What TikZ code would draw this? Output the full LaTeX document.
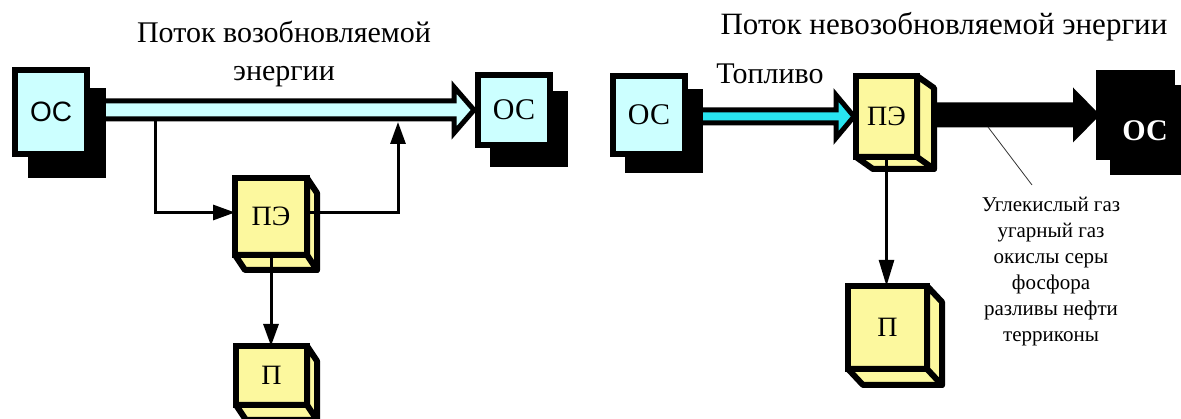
\documentclass[tikz,border=0pt]{standalone}
\usepackage{fontspec}
\setmainfont{Liberation Serif}
\newfontfamily\tnr{Liberation Serif}
\newfontfamily\arialfont{Liberation Sans}
\usetikzlibrary{arrows.meta,calc,backgrounds}
\definecolor{lcyan}{RGB}{204,255,255}
\definecolor{bcyan}{RGB}{40,228,240}
\definecolor{yel}{RGB}{252,248,158}
\tikzset{
  box/.style={draw=black, line width=6pt, line join=miter, inner sep=0pt, outer sep=0pt, font=\tnr\fontsize{30}{30}\selectfont},
  osbox/.style={box, fill=lcyan},
  cube/.style={box, fill=yel, font=\tnr\fontsize{28}{28}\selectfont},
  conn/.style={line width=3pt, -{Triangle[length=22pt,width=15pt]}},
  thinconn/.style={line width=2.5pt, -{Triangle[length=26pt,width=15pt]}},
  pointer/.style={line width=0.8pt, draw=black!80},
  title/.style={font=\tnr\fontsize{30}{38}\selectfont, align=center, inner sep=0pt},
  note/.style={font=\tnr\fontsize{21}{26}\selectfont, align=center, inner sep=0pt},
}
\newcommand\cubedepth[3]{%
  \filldraw[line width=6pt, line join=round, fill=yel, draw=black]
    (#1.north east) -- ++(#2,#3) -- ($(#1.south east)+(#2,#3)$) -- ($(#1.south west)+(#2,#3)$)
    -- (#1.south west) -- (#1.south east) -- cycle;
  \draw[line width=6pt, line cap=round] (#1.south east) -- ++(#2,#3);}
\newcommand\shadowof[3]{%
  \filldraw[black, line width=6pt] ($(#1.south west)+(#2,#3)$) rectangle ($(#1.north east)+(#2,#3)$);}
% style, from, to, half band, half head, head length
\newcommand\blockarrow[6]{%
  \path[#1] let \p1=(#2), \p2=(#3) in
    (\x1,\y2+#4) -- (\x2-#6,\y2+#4) -- (\x2-#6,\y2+#5) -- (\x2,\y2)
    -- (\x2-#6,\y2-#5) -- (\x2-#6,\y2-#4) -- (\x1,\y2-#4) -- cycle;}
\begin{document}
\begin{tikzpicture}[x=1pt,y=-1pt]
\useasboundingbox (0,0) rectangle (1181,419);

% titles
\node[title, anchor=north] (t1) at (284,21) {Поток возобновляемой\\энергии};
\node[title, font=\tnr\fontsize{31}{38}\selectfont, anchor=north] (t2) at (944,12) {Поток невозобновляемой энергии};
\node[font=\tnr\fontsize{30}{30}\selectfont, inner sep=0pt, anchor=base] (fuel) at (770,84) {Топливо};

% environment boxes
\node[osbox, minimum width=72pt, minimum height=84pt, font=\arialfont\fontsize{28}{28}\selectfont] (os1) at (51,112) {ОС};
\node[osbox, minimum width=72pt, minimum height=70pt] (os2) at (514,110) {ОС};
\node[osbox, minimum width=72pt, minimum height=78pt] (os3) at (649,115) {ОС};
\node[box, fill=black, minimum width=73pt, minimum height=84pt] (os4) at (1135.5,115) {};
\node[text=white, font=\tnr\bfseries\fontsize{30}{30}\selectfont, inner sep=0pt] (os4t) at (1145,131) {ОС};

% cubes
\node[cube, minimum width=72pt, minimum height=77pt] (pe1) at (271,216.5) {ПЭ};
\node[cube, minimum width=71pt, minimum height=59pt] (p1) at (271.5,375.5) {П};
\node[cube, minimum width=61pt, minimum height=81pt] (pe2) at (886.5,116.5) {ПЭ};
\node[cube, minimum width=79pt, minimum height=83pt] (p2) at (887.5,327.5) {П};
\cubedepth{pe1}{10}{15}
\cubedepth{p1}{10}{15}
\cubedepth{pe2}{17}{12}
\cubedepth{p2}{15}{16}

\begin{scope}[on background layer]
  \blockarrow{draw=black, line width=5pt, line join=miter, fill=lcyan}{os1.center}{[xshift=-4pt]os2.west}{9pt}{23pt}{20pt}
  \blockarrow{draw=black, line width=5pt, line join=miter, fill=bcyan}{os3.center}{[xshift=-2pt]pe2.west}{6.5pt}{21.5pt}{18pt}
  \blockarrow{fill=black}{pe2.center}{[xshift=1pt]os4.west}{12.5pt}{27.5pt}{27pt}
  \shadowof{os1}{16}{21}
  \shadowof{os2}{15}{19}
  \shadowof{os3}{15}{16}
  \shadowof{os4}{14}{15}
\end{scope}

% connectors
\coordinate (b1) at (155,120);
\coordinate (b2) at (398,122);
\draw[conn] (b1) |- ([yshift=4pt]pe1.west);
\draw[conn] ([yshift=4pt]pe1.east) -| (b2);
\draw[conn] (pe1.south) -- (pe1.south |- p1.north);
\draw[thinconn] (pe2.south) -- (pe2.south |- p2.north);

% emissions note
\node[note, anchor=north] (lbl) at (1051,197) {Углекислый газ\\угарный газ\\окислы серы\\фосфора\\разливы нефти\\терриконы};
\coordinate (c1) at (988,127);
\draw[pointer] (c1) -- ($(lbl.north)+(-19,-12)$);
\end{tikzpicture}
\end{document}
